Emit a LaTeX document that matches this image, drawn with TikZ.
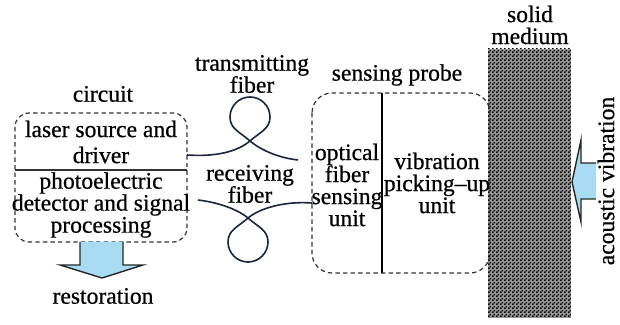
\documentclass[tikz,border=0pt]{standalone}
\usepackage{fontspec}
\setmainfont{Liberation Serif}[FakeBold=0.6]
\usetikzlibrary{patterns.meta}
\tikzdeclarepattern{name=finechecker, type=uncolored,
  bounding box={(0,0) and (2pt,2pt)}, tile size={(2pt,2pt)},
  code={\fill (0,0) rectangle (1pt,1pt); \fill (1pt,1pt) rectangle (2pt,2pt);}}
\definecolor{arrowblue}{HTML}{A9DCF2}
\definecolor{fiberblue}{HTML}{1A2540}
\begin{document}
\begin{tikzpicture}[x=0.5pt,y=-0.5pt,
  txt/.style={font=\fontsize{11.8}{11}\selectfont, align=center, inner sep=0pt},
  dbox/.style={draw=black!80, dashed, dash pattern=on 2.2pt off 1.6pt, line width=0.6pt},
  fiber/.style={draw=fiberblue, line width=0.8pt},
  bigarrow/.style={fill=arrowblue, draw=black!85, line width=0.7pt, line join=miter}]
\useasboundingbox (0,0) rectangle (620,325);
\fill[white] (0,0) rectangle (620,325);

% solid medium
\fill[black!40] (488,49) rectangle (571,318);
\fill[pattern=finechecker, pattern color=black] (488,49) rectangle (571,318);
\node[txt] (medium) at (530,25) {solid\\medium};

% circuit box
\draw[dbox, rounded corners=7pt] (15,113) rectangle (187,242);
\coordinate (cl) at (15,170);
\coordinate (cr) at (187,170);
\draw[black!80, line width=0.8pt] (cl) -- (cr);
\node[txt] (circuit) at (103,94) {circuit};
\node[txt] (laser) at (101,142) {laser source and\\[2pt]driver};
\node[txt] (photo) at (101,205) {photoelectric\\detector and signal\\processing};

% restoration arrow
\draw[bigarrow] (80,242) -- (80,265) -- (60,265) -- (102,278) -- (143,265) -- (123,265) -- (123,242);
\node[txt] (resto) at (103,296) {restoration};

% probe box
\draw[dbox, rounded corners=10pt] (312,93) rectangle (490,273);
\coordinate (pt) at (382,93);
\coordinate (pb) at (382,273);
\draw[black, line width=0.6pt] (pt) -- (pb);
\node[txt] (probe) at (397,75) {sensing probe};
\node[txt] (ofsu) at (347,185) {optical\\fiber\\sensing\\unit};
\node[txt] (vpu) at (437,183) {vibration\\picking–up\\unit};

% fibers
\node[txt] (tlabel) at (252,74) {transmitting\\fiber};
\node[txt] (rlabel) at (250,184) {receiving\\fiber};
\coordinate (tA) at (187,155);
\coordinate (X1) at (250,141);
\coordinate (tB) at (298,160);
\draw[fiber] (tA) .. controls (218,157) and (238,151) .. (X1)
  .. controls (260,132) and (270,129) .. (270,117)
  .. controls (270,106) and (261,97) .. (250,97)
  .. controls (239,97) and (230,106) .. (230,117)
  .. controls (230,129) and (240,132) .. (X1)
  .. controls (262,151) and (280,158) .. (tB);
\coordinate (rA) at (198,200);
\coordinate (X2) at (248,218);
\coordinate (rB) at (312,203);
\draw[fiber] (rA) .. controls (215,202) and (236,208) .. (X2)
  .. controls (258,227) and (268,230) .. (268,242)
  .. controls (268,253) and (259,262) .. (248,262)
  .. controls (237,262) and (228,253) .. (228,242)
  .. controls (228,230) and (238,227) .. (X2)
  .. controls (260,208) and (285,201) .. (rB);

% acoustic vibration arrow
\draw[bigarrow] (600,163) -- (581,163) -- (581,140) -- (572,182) -- (581,222) -- (581,199) -- (600,199);
\node[txt, rotate=90, fill=white, inner sep=1pt] (acoustic) at (606,181) {acoustic vibration};
\end{tikzpicture}
\end{document}
